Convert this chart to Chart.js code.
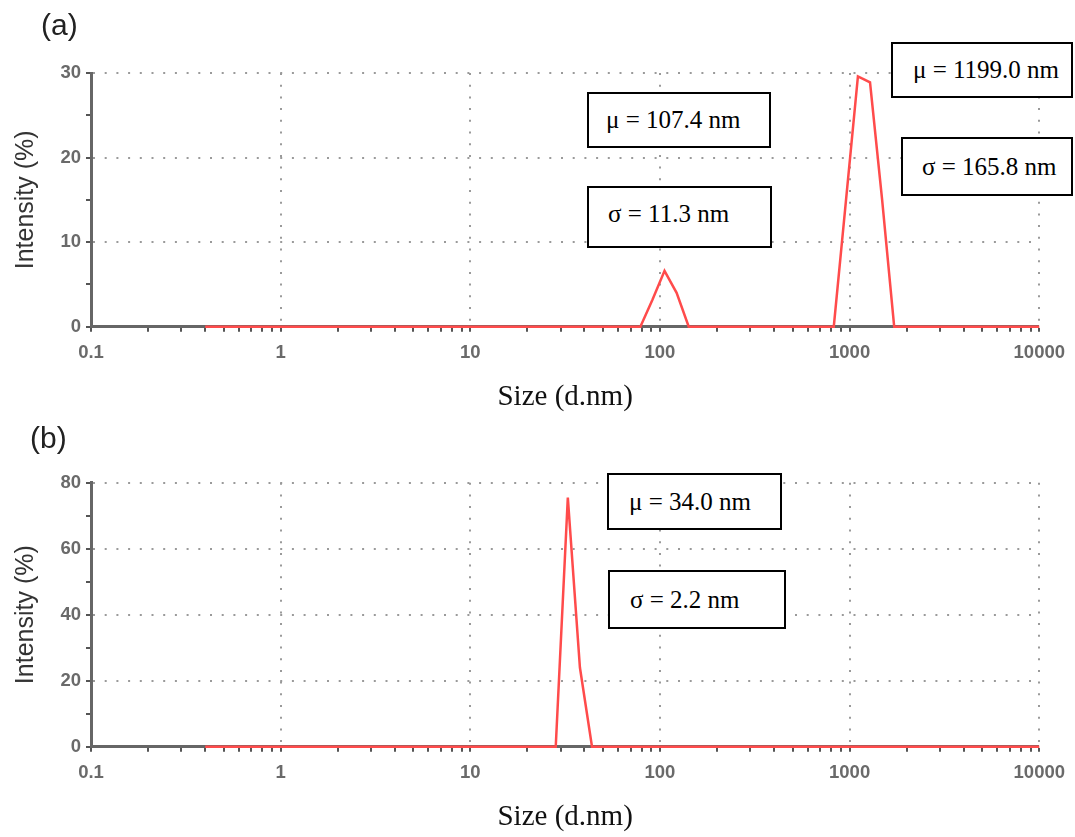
<!DOCTYPE html>
<html>
<head>
<meta charset="utf-8">
<title>Size distribution by intensity</title>
<script src="https://cdn.jsdelivr.net/npm/chart.js@4.4.0/dist/chart.umd.min.js"></script>
<style>
  body { margin: 0; background: #fff; }
  #page { position: relative; width: 1075px; height: 837px; overflow: hidden; }
  .panel { position: absolute; left: 0; width: 1075px; }
  #panelA { top: 0; height: 420px; }
  #panelB { top: 420px; height: 417px; }
  .tag { position: absolute; font-family: "Liberation Sans", Arial, sans-serif; font-size: 30px; line-height: 30px; color: #222; }
  .box { position: absolute; box-sizing: border-box; border: 2px solid #000; background: #fff;
         font-family: "Liberation Serif", serif; font-size: 25px; color: #000;
         display: flex; align-items: center; white-space: nowrap; }
</style>
</head>
<body>
<div id="page">
  <div class="panel" id="panelA"><canvas id="chartA"></canvas></div>
  <div class="panel" id="panelB"><canvas id="chartB"></canvas></div>

  <div class="tag" style="left:41px; top:10px;">(a)</div>
  <div class="tag" style="left:30px; top:423px;">(b)</div>

  <div class="box" style="left:587px; top:92px; width:184px; height:56px; padding-left:17px;">μ = 107.4 nm</div>
  <div class="box" style="left:587px; top:186px; width:185px; height:62px; padding-left:19px; padding-bottom:6px;">σ = 11.3 nm</div>
  <div class="box" style="left:891px; top:42px; width:182px; height:56px; padding-left:20px;">μ = 1199.0 nm</div>
  <div class="box" style="left:901px; top:137px; width:172px; height:59px; padding-left:19px;">σ = 165.8 nm</div>

  <div class="box" style="left:607px; top:473px; width:175px; height:57px; padding-left:20px;">μ = 34.0 nm</div>
  <div class="box" style="left:608px; top:570px; width:178px; height:59px; padding-left:20px;">σ = 2.2 nm</div>
</div>

<script>
// size classes (d.nm) of the instrument
let sizeBins = [
  0.4, 0.4632, 0.5365, 0.6213, 0.7195, 0.8332, 0.9649, 1.117, 1.294, 1.499,
  1.736, 2.01, 2.328, 2.696, 3.122, 3.615, 4.187, 4.849, 5.615, 6.503,
  7.531, 8.721, 10.1, 11.7, 13.54, 15.69, 18.17, 21.04, 24.36, 28.21,
  32.67, 37.84, 43.82, 50.75, 58.77, 68.06, 78.82, 91.28, 105.7, 122.4,
  141.8, 164.2, 190.1, 220.2, 255, 295.3, 342, 396.1, 458.7, 531.2,
  615.1, 712.4, 825, 955.4, 1106, 1281, 1484, 1718, 1990, 2305,
  2669, 3091, 3580, 4145, 4801, 5560, 6439, 7456, 8635, 10000
];

// intensity (%) - panel (a)
let intensityA = [
  0, 0, 0, 0, 0, 0, 0, 0, 0, 0,
  0, 0, 0, 0, 0, 0, 0, 0, 0, 0,
  0, 0, 0, 0, 0, 0, 0, 0, 0, 0,
  0, 0, 0, 0, 0, 0, 0, 3.2, 6.6, 4.0,
  0, 0, 0, 0, 0, 0, 0, 0, 0, 0,
  0, 0, 0, 14.8, 29.6, 28.9, 15.0, 0, 0, 0,
  0, 0, 0, 0, 0, 0, 0, 0, 0, 0
];

// intensity (%) - panel (b)
let intensityB = [
  0, 0, 0, 0, 0, 0, 0, 0, 0, 0,
  0, 0, 0, 0, 0, 0, 0, 0, 0, 0,
  0, 0, 0, 0, 0, 0, 0, 0, 0, 0,
  75.5, 24.0, 0, 0, 0, 0, 0, 0, 0, 0,
  0, 0, 0, 0, 0, 0, 0, 0, 0, 0,
  0, 0, 0, 0, 0, 0, 0, 0, 0, 0,
  0, 0, 0, 0, 0, 0, 0, 0, 0, 0
];

let xTickLabels = ['0.1', '1', '10', '100', '1000', '10000'];
let yTicksA = [0, 10, 20, 30];
let yTicksB = [0, 20, 40, 60, 80];

const tickFont = { family: '"Liberation Sans", Arial, sans-serif', size: 18.5, weight: 'bold' };
const gridDash = [2, 9.7];

function isDecade(v) {
    let e = Math.log10(v);
    return Math.abs(e - Math.round(e)) < 1e-6;
}

function makeChart(id, intensity, yMax, yStep, yTicks, padTop, xHeight, titlePadBottom) {
    let ctx = document.getElementById(id).getContext('2d');
    return new Chart(ctx, {
        type: 'line',
        data: {
            datasets: [{
                data: sizeBins.map((s, i) => ({ x: s, y: intensity[i] })),
                borderColor: 'rgb(255, 75, 75)',
                borderWidth: 2.5,
                pointRadius: 0,
                tension: 0,
                fill: false,
                clip: false
            }]
        },
        options: {
            responsive: true,
            maintainAspectRatio: false,
            animation: false,
            devicePixelRatio: 1,
            layout: { padding: { left: 0, right: 35, top: padTop, bottom: 0 } },
            plugins: { legend: { display: false }, tooltip: { enabled: false } },
            scales: {
                x: {
                    type: 'logarithmic',
                    min: 0.1,
                    max: 10000,
                    afterBuildTicks: s => {
                        s.ticks = s.ticks.filter(t => {
                            let m = t.value / Math.pow(10, Math.floor(Math.log10(t.value) + 1e-9));
                            return Math.abs(m - Math.round(m)) < 1e-6;
                        });
                    },
                    afterFit: s => { s.height = xHeight; },
                    ticks: {
                        autoSkip: false,
                        maxRotation: 0,
                        minRotation: 0,
                        padding: 10,
                        color: '#6a6a6a',
                        font: tickFont,
                        callback: v => isDecade(v) ? xTickLabels[Math.round(Math.log10(v)) + 1] : ''
                    },
                    grid: {
                        lineWidth: c => (c.tick && isDecade(c.tick.value) && c.tick.value > 0.11) ? 2 : 0,
                        color: '#9a9a9a',
                        tickColor: '#555',
                        tickWidth: 2,
                        tickLength: 5
                    },
                    border: { color: '#666', width: 3, dash: gridDash },
                    title: {
                        display: true,
                        text: 'Size (d.nm)',
                        color: '#111',
                        font: { family: '"Liberation Serif", serif', size: 29 },
                        padding: { top: 0, bottom: titlePadBottom }
                    }
                },
                y: {
                    min: 0,
                    max: yMax,
                    afterFit: s => { s.width = 91; },
                    ticks: {
                        stepSize: yStep,
                        padding: 5,
                        color: '#6a6a6a',
                        font: tickFont,
                        callback: v => yTicks.includes(v) ? String(v) : ''
                    },
                    grid: {
                        lineWidth: c => (c.tick && yTicks.includes(c.tick.value) && c.tick.value > 0) ? 2 : 0,
                        color: '#9a9a9a',
                        tickColor: '#555',
                        tickWidth: 2,
                        tickLength: 5
                    },
                    border: { color: '#666', width: 3, dash: gridDash },
                    title: {
                        display: true,
                        text: 'Intensity (%)',
                        color: '#333',
                        font: { family: '"Liberation Sans", Arial, sans-serif', size: 25 },
                        padding: { top: 11, bottom: 0 }
                    }
                }
            }
        }
    });
}

makeChart('chartA', intensityA, 30, 5, yTicksA, 73, 93.3, 5);
makeChart('chartB', intensityB, 80, 10, yTicksB, 62.7, 90.3, 2);
</script>
</body>
</html>
